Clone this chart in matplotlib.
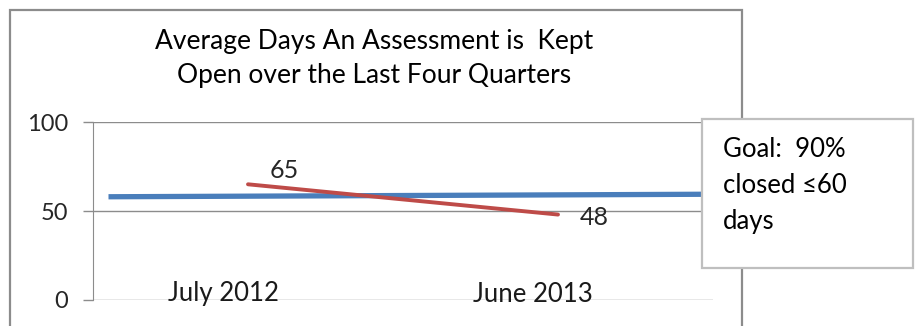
import matplotlib.pyplot as plt
from matplotlib.patches import Rectangle

plt.rcParams['font.family'] = ['Lato', 'DejaVu Sans']

# data
quarters = ['July 2012', 'June 2013']
avg_days = [65, 48]
goal_x = [-0.45, 1.6]
goal_days = [58, 59.5]
y_ticks = [0, 50, 100]

W, H = 916, 326
fig = plt.figure(figsize=(W / 100, H / 100), dpi=100)

# chart area border
fig.patches.append(Rectangle((10 / W, -0.1), 732 / W, 1.1 - 10 / H, transform=fig.transFigure,
                             fill=False, edgecolor='#8c8c8c', linewidth=1.6, zorder=0))

ax = fig.add_axes([93 / W, 1 - 300 / H, 620 / W, 178 / H])
ax.set_xlim(-0.5, 1.5)
ax.set_ylim(0, 100)

ax.plot(goal_x, goal_days, color='#4a7ebb', linewidth=3.8, solid_capstyle='butt', clip_on=False, zorder=3)
ax.plot(range(len(quarters)), avg_days, color='#be4b48', linewidth=2.8, solid_capstyle='round', zorder=4)

for i, v in enumerate(avg_days):
    ax.annotate(str(v), (i, v), xytext=(36, 14 if i == 0 else -3), textcoords='offset pixels',
                ha='center', va='center', fontsize=18, color='#262626')

for i, q in enumerate(quarters):
    ax.annotate(q, (i, 0), xytext=(-25, 6), textcoords='offset pixels',
                ha='center', va='center', fontsize=18.5, color='#1a1a1a')

ax.set_yticks(y_ticks)
ax.set_yticklabels([str(t) for t in y_ticks], fontsize=17, color='#262626')
ax.set_xticks([])
ax.grid(axis='y', color='#8c8c8c', linewidth=1)
ax.tick_params(axis='y', length=7, width=1, color='#8c8c8c', pad=11)
for s in ['top', 'right', 'bottom']:
    ax.spines[s].set_visible(False)
ax.spines['left'].set_color('#8c8c8c')

fig.text(374 / W, 1 - 58 / H, 'Average Days An Assessment is  Kept\nOpen over the Last Four Quarters',
         ha='center', va='center', fontsize=19, linespacing=1.45, color='#000000')

# goal text box
fig.patches.append(Rectangle((702 / W, 1 - 268 / H), 211 / W, 149 / H, transform=fig.transFigure,
                             facecolor='white', edgecolor='#bfbfbf', linewidth=1.6, zorder=10))
fig.text(723 / W, 1 - 185 / H, 'Goal:  90%\nclosed ≤60\ndays', ha='left', va='center',
         fontsize=18.5, linespacing=1.55, color='#000000', zorder=11)

fig.savefig('out.png', dpi=100)
